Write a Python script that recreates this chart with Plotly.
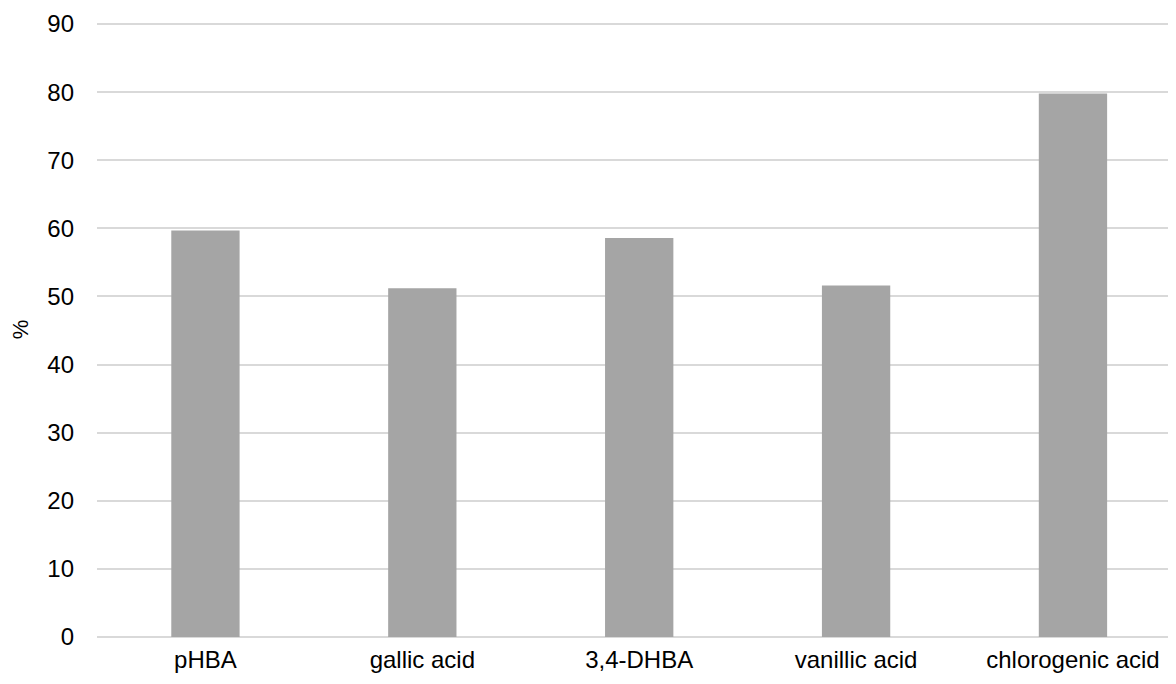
import plotly.graph_objects as go

categories = ["pHBA", "gallic acid", "3,4-DHBA", "vanillic acid", "chlorogenic acid"]
values = [59.7, 51.2, 58.6, 51.6, 79.8]
y_ticks = [0, 10, 20, 30, 40, 50, 60, 70, 80, 90]

fig = go.Figure(go.Bar(
    x=list(range(len(categories))), y=values,
    marker=dict(color="#a5a5a5", line=dict(width=0)),
    width=0.315,
))

fig.update_layout(
    width=1176, height=684,
    margin=dict(l=89, r=0, t=14, b=55, autoexpand=False),
    paper_bgcolor="white", plot_bgcolor="white",
    font=dict(family="Liberation Sans", size=24, color="#000000"),
    showlegend=False,
)
fig.update_xaxes(
    tickmode="array", tickvals=list(range(len(categories))), ticktext=categories,
    range=[-0.5, 4.512], showgrid=False, showline=False, zeroline=False,
    ticks="", tickfont=dict(size=24), ticklabelstandoff=6, automargin=False,
)
fig.update_yaxes(
    range=[0, 90.3], tickvals=y_ticks, showgrid=True, gridcolor="#d9d9d9", gridwidth=1.5,
    zeroline=True, zerolinecolor="#d9d9d9", zerolinewidth=1.5,
    showline=False, ticks="", ticklabelstandoff=22, automargin=False,
    tickfont=dict(size=24),
    title=dict(text="%", font=dict(size=22), standoff=22),
)

fig.write_html("out.html")
